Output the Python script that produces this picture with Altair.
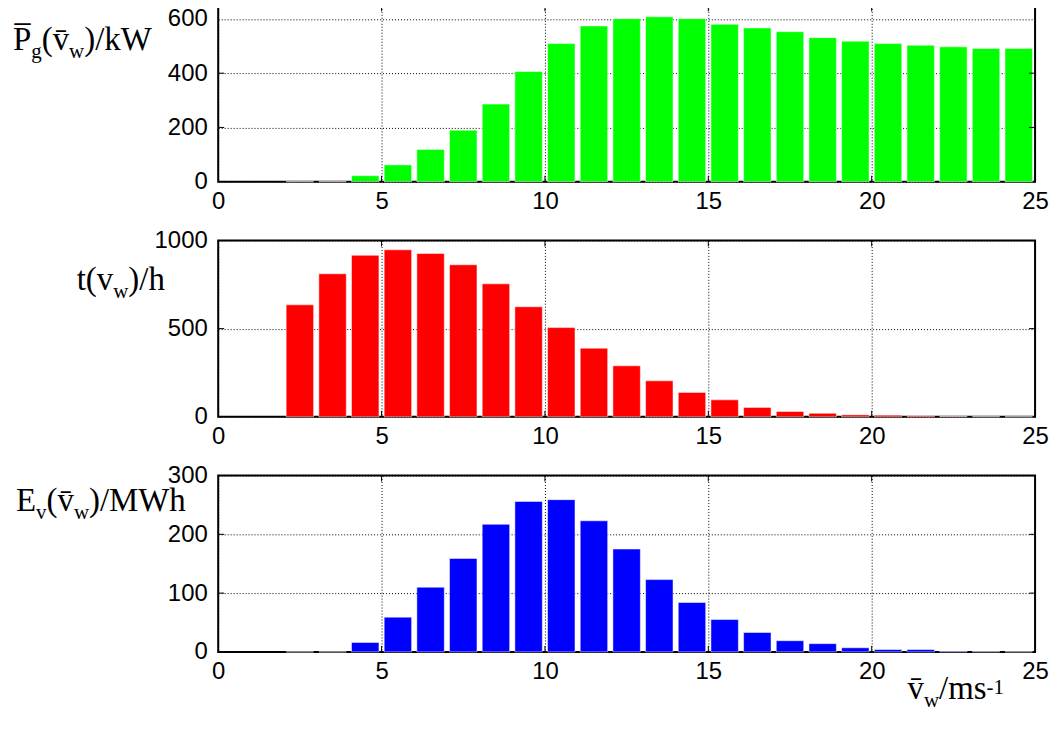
import altair as alt
import pandas as pd

# ---- data ----
speeds = list(range(2, 25))
power_kw = [0, 0, 22, 62, 119, 190, 286, 406, 509, 574, 601, 608, 601,
            580, 567, 553, 531, 518, 509, 503, 497, 491, 491]
hours = [635, 811, 916, 947, 926, 862, 754, 624, 506, 389, 289, 204, 138,
         96, 53, 30, 20, 11, 9, 6, 2, 1, 0.5]
energy_mwh = [0, 0, 16, 59, 110, 159, 217, 256, 259, 223, 175, 123, 84,
              55, 33, 19, 14, 7, 4, 4, 1, 0.5, 0.3]

x_ticks = [0, 5, 10, 15, 20, 25]
p_ticks = [0, 200, 400, 600]
t_ticks = [0, 500, 1000]
e_ticks = [0, 100, 200, 300]

W, H = 820, 177
F, S = 33, 21  # main / sub-script font sizes of the serif labels

# Times (Liberation Serif) advance widths in em
ADV = {"P": .556, "g": .5, "(": .333, "v": .5, ")": .333, "/": .278, "k": .5,
       "W": .944, "t": .278, "h": .5, "E": .611, "M": .889, "m": .778,
       "s": .389, "-": .333, "1": .5, "w": .722}

TICK_FONT = "Liberation Sans"
SERIF = "Liberation Serif"


def text_pieces(pieces, x0, y0):
    layers = []
    x = x0
    for txt, size, dy in pieces:
        layers.append(
            alt.Chart(pd.DataFrame({"s": [txt]}))
            .mark_text(align="left", baseline="alphabetic", font=SERIF,
                       fontSize=size, color="black")
            .encode(text="s:N", x=alt.value(x), y=alt.value(y0 + dy))
        )
        x += sum(ADV.get(c, 0) for c in txt) * size
    return layers


def panel(vals, color, ymax, yticks, pieces, px, py, extra=None):
    df = pd.DataFrame({"speed": speeds, "val": vals})
    xs = alt.Scale(domain=[0, 25], nice=False, zero=False)
    ys = alt.Scale(domain=[0, ymax], nice=False)
    axis_common = dict(title=None, grid=True, gridDash=[1, 2], gridColor="black",
                       gridOpacity=1, gridWidth=1, domain=False, ticks=False,
                       labelFont=TICK_FONT, labelFontSize=24, labelColor="black",
                       labelOverlap=False, format="d")
    xaxis = alt.Axis(values=x_ticks, labelPadding=8, labelFlush=False, **axis_common)
    yaxis = alt.Axis(values=yticks, labelPadding=11, **axis_common)
    bars = (
        alt.Chart(df)
        .transform_calculate(x0="datum.speed + 0.08", x1="datum.speed + 0.92",
                             base="0")
        .mark_bar(color=color, stroke="white", strokeWidth=1, strokeOpacity=0.5)
        .encode(
            x=alt.X("x0:Q", scale=xs, axis=xaxis),
            x2="x1:Q",
            y=alt.Y("val:Q", scale=ys, axis=yaxis),
            y2="base:Q",
        )
    )
    xt = pd.DataFrame({"t": x_ticks[1:-1]})
    yt = pd.DataFrame({"t": yticks[1:-1]})
    tick_layers = [
        alt.Chart(xt).mark_rule(color="black", strokeWidth=1).encode(
            x=alt.X("t:Q", scale=xs, axis=xaxis), y=alt.value(H), y2=alt.value(H - 6)),
        alt.Chart(xt).mark_rule(color="black", strokeWidth=1).encode(
            x=alt.X("t:Q", scale=xs, axis=xaxis), y=alt.value(0), y2=alt.value(6)),
        alt.Chart(yt).mark_rule(color="black", strokeWidth=1).encode(
            y=alt.Y("t:Q", scale=ys, axis=yaxis), x=alt.value(0), x2=alt.value(6)),
        alt.Chart(yt).mark_rule(color="black", strokeWidth=1).encode(
            y=alt.Y("t:Q", scale=ys, axis=yaxis), x=alt.value(W - 6), x2=alt.value(W)),
    ]
    layers = [bars] + tick_layers + text_pieces(pieces, px, py)
    if extra:
        layers += extra
    return alt.layer(*layers).properties(width=W, height=H)


p1 = panel(power_kw, "#00ff00", 650, p_ticks,
           [("P\u0305", F, 0), ("g", S, 8), ("(v\u0304", F, 0), ("w", S, 8), (")/kW", F, 0)],
           -206, 45)
p2 = panel(hours, "#ff0000", 1000, t_ticks,
           [("t(v", F, 0), ("w", S, 8), (")/h", F, 0)],
           -142, 50)
xlabel = text_pieces([("v\u0304", F, 0), ("w", S, 8), ("/ms", F, 0), ("-1", S, -5)], 692, 224)
p3 = panel(energy_mwh, "#0000ff", 300, e_ticks,
           [("E", F, 0), ("v", S, 8), ("(v\u0304", F, 0), ("w", S, 8), (")/MWh", F, 0)],
           -203, 36, extra=xlabel)

chart = (
    alt.vconcat(p1, p2, p3, spacing=59, bounds="flush")
    .properties(padding={"left": 4, "top": -6, "right": 0, "bottom": 0})
    .configure_view(stroke="black", strokeWidth=2)
)

chart.save("out.html", embed_options={"renderer": "svg", "actions": False})
